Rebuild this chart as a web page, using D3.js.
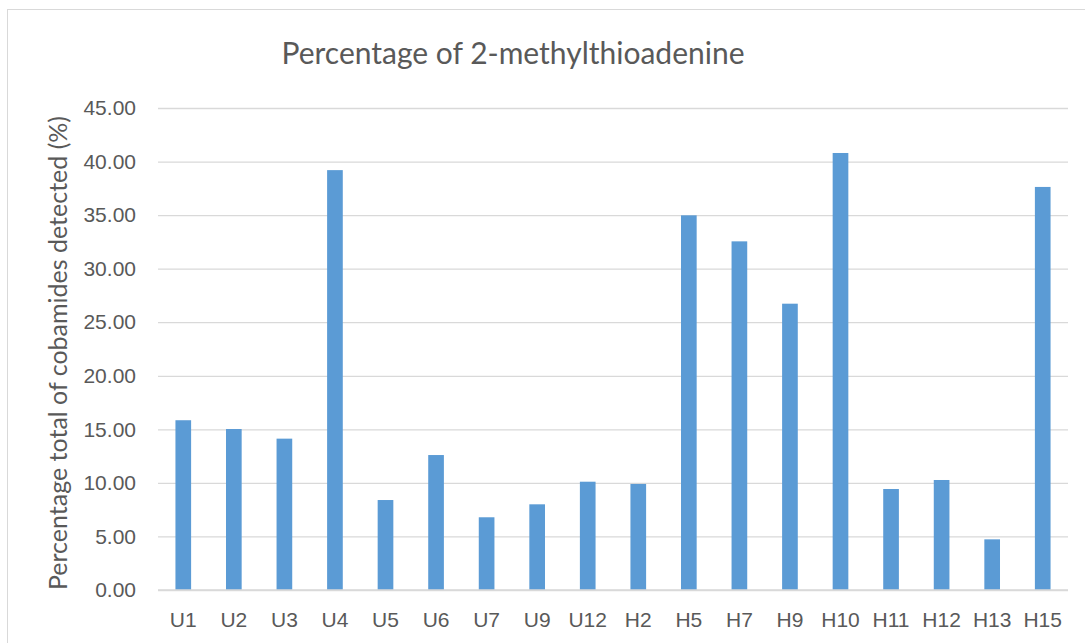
<!DOCTYPE html>
<html>
<head>
<meta charset="utf-8">
<script src="https://cdn.jsdelivr.net/npm/d3@7"></script>
<style>
html,body{margin:0;padding:0;background:#fff;}
svg{display:block;font-family:Lato,"Open Sans","Noto Sans",sans-serif;}
</style>
</head>
<body>
<svg id="chart" width="1085" height="643"></svg>
<script>
const categories = ["U1","U2","U3","U4","U5","U6","U7","U9","U12","H2","H5","H7","H9","H10","H11","H12","H13","H15"];
const values = [15.85,15.03,14.13,39.2,8.40,12.6,6.79,8.0,10.11,9.9,34.98,32.55,26.73,40.8,9.43,10.27,4.73,37.63];
const yTicks = [0,5,10,15,20,25,30,35,40,45];
const title = "Percentage of 2-methylthioadenine";
const yLabel = "Percentage total of cobamides detected (%)";

const svg = d3.select("#chart");
const textColor = "#595959";
const m = {left:158, right:1068, top:108, bottom:590};

// chart border
svg.append("rect").attr("x",7.5).attr("y",9.5).attr("width",1100).attr("height",700)
  .attr("fill","none").attr("stroke","#d9d9d9").attr("stroke-width",1);

const x = d3.scaleBand().domain(categories).range([m.left,m.right]).paddingInner(0.69).paddingOuter(0.345);
const y = d3.scaleLinear().domain([0,45]).range([m.bottom,m.top]);

// gridlines
const yAxis = d3.axisLeft(y).tickValues(yTicks).tickFormat(d3.format(".2f")).tickSize(-(m.right-m.left)).tickPadding(22);
const gy = svg.append("g").attr("transform",`translate(${m.left},0)`).call(yAxis);
gy.select(".domain").remove();
gy.selectAll(".tick line").attr("stroke","#d9d9d9").attr("stroke-width",1.3);
gy.selectAll(".tick text").attr("fill",textColor).attr("font-size",21).attr("font-family",null);

// bars
svg.append("g").selectAll("rect").data(values).join("rect")
  .attr("x",(d,i)=>x(categories[i]))
  .attr("y",d=>y(d))
  .attr("width",x.bandwidth())
  .attr("height",d=>y(0)-y(d))
  .attr("fill","#5b9bd5");

// baseline
svg.append("line").attr("x1",m.left).attr("x2",m.right).attr("y1",y(0)).attr("y2",y(0))
  .attr("stroke","#d9d9d9").attr("stroke-width",1.3);

// x axis labels
const xAxis = d3.axisBottom(x).tickSize(0).tickPadding(22);
const gx = svg.append("g").attr("transform",`translate(0,${m.bottom})`).call(xAxis);
gx.select(".domain").remove();
gx.selectAll(".tick text").attr("fill",textColor).attr("font-size",21).attr("font-family",null);

// title
svg.append("text").attr("x",513).attr("y",64).attr("text-anchor","middle")
  .attr("fill",textColor).attr("font-size",30).text(title);

// y label
svg.append("text").attr("transform","translate(67,353) rotate(-90)").attr("text-anchor","middle")
  .attr("fill",textColor).attr("font-size",25).text(yLabel);
</script>
</body>
</html>
